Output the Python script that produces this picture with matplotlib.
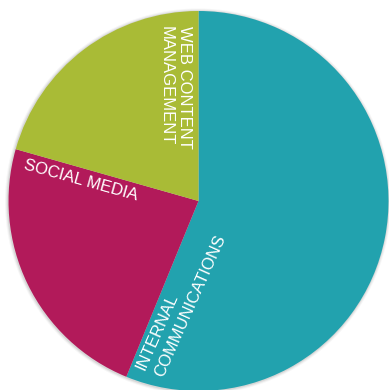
import numpy as np
import matplotlib
matplotlib.use("Agg")
import matplotlib.pyplot as plt
from matplotlib.patches import Circle

# slice data (clockwise from 12 o'clock)
labels = ["INTERNAL\nCOMMUNICATIONS", "SOCIAL MEDIA", "WEB CONTENT\nMANAGEMENT"]
shares = [56.2, 23.2, 20.6]
colors = ["#22A2AE", "#B21A5A", "#A9BB36"]

W, H = 389, 390
plt.rcParams["font.family"] = ["Liberation Sans", "DejaVu Sans"]

fig = plt.figure(figsize=(W / 100, H / 100), dpi=100)
ax = fig.add_axes([0, 0, 1, 1])

cx, cy, r = 198.5, H - 201, 190

# soft shadow round the disc
for k, a in [(3.0, 0.05), (2.0, 0.08), (1.0, 0.12)]:
    ax.add_patch(Circle((cx - 0.5, cy - 0.5), r + k, color="#555555", alpha=a, lw=0, zorder=0))

ax.pie(shares, colors=colors, startangle=90, counterclock=False,
       center=(cx, cy), radius=r, frame=True,
       wedgeprops=dict(linewidth=0))
ax.set_xlim(0, W)
ax.set_ylim(0, H)
ax.set_aspect("equal")
ax.axis("off")

fs = 12
def put(s, x, y, rot):
    ax.text(x, H - y, s, rotation=rot, rotation_mode="anchor",
            ha="left", va="baseline", color="white", fontsize=fs, zorder=5)

# web content management (reads downwards)
put("WEB CONTENT", 180, 26.5, -90)
put("MANAGEMENT", 161.5, 26.5, -90)
# social media
put("SOCIAL MEDIA", 23, 169, -15.5)
# internal communications
put("INTERNAL", 145, 371, 66)
put("COMMUNICATIONS", 163, 378, 66)

fig.savefig("out.png", dpi=100)
